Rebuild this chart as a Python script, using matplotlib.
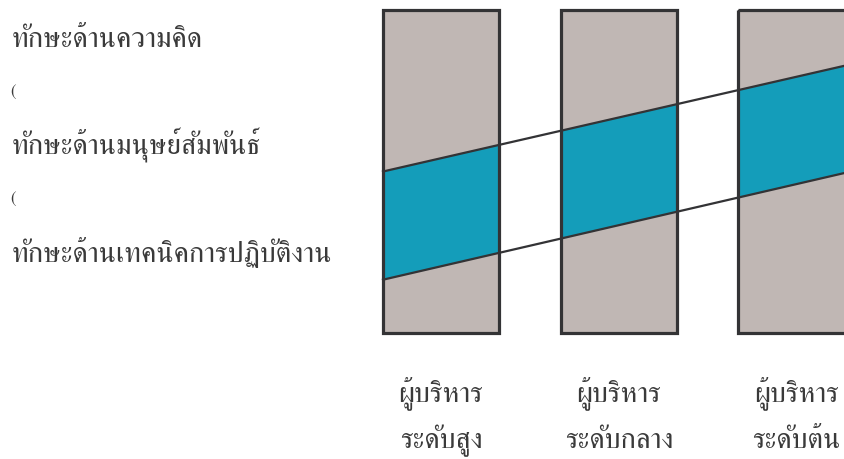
import matplotlib
matplotlib.use("Agg")
import matplotlib.pyplot as plt
from matplotlib.patches import Rectangle, Polygon

FONT = ["FreeSerif", "DejaVu Serif"]
TXT = "#3a3a3a"

# management levels (left to right) and the skill labels on the left
levels = ["ผู้บริหาร\nระดับสูง", "ผู้บริหาร\nระดับกลาง", "ผู้บริหาร\nระดับต้น"]
skills = ["ทักษะด้านความคิด", "(", "ทักษะด้านมนุษย์สัมพันธ์", "(", "ทักษะด้านเทคนิคการปฏิบัติงาน"]

# share of the column (0 = bottom, 1 = top) taken by the human-relations band,
# read at the left edge of the first column and the right edge of the picture
band_low = [0.165, 0.495]
band_high = [0.500, 0.827]

fig = plt.figure(figsize=(8.44, 4.59), dpi=100)
ax = fig.add_axes([0, 0, 1, 1])
ax.set_xlim(0, 844); ax.set_ylim(459, 0); ax.axis("off")

GREY, TEAL, EDGE = "#c0b7b4", "#149dba", "#333335"
col_x = [383, 561, 738]; col_w = 116
top, bot = 10, 333
x0, x1 = col_x[0], 844

def yat(vals, x):
    f = vals[0] + (vals[1] - vals[0]) * (x - x0) / (x1 - x0)
    return bot - f * (bot - top)

for x, lab in zip(col_x, levels):
    ax.add_patch(Rectangle((x, top), col_w, bot - top, fc=GREY, ec="none", zorder=1))
    xr = min(x + col_w, 844)
    poly = [(x, yat(band_high, x)), (xr, yat(band_high, xr)),
            (xr, yat(band_low, xr)), (x, yat(band_low, x))]
    ax.add_patch(Polygon(poly, closed=True, fc=TEAL, ec="none", zorder=2))
    ax.add_patch(Rectangle((x, top), col_w, bot - top, fc="none", ec=EDGE, lw=2.3, zorder=4))
    a, b = lab.split("\n")
    cx = x + col_w / 2
    ax.text(cx, 401, a, ha="center", va="baseline", fontsize=20.7, family=FONT, color=TXT)
    ax.text(cx, 448, b, ha="center", va="baseline", fontsize=20.7, family=FONT, color=TXT)

for vals in (band_high, band_low):
    ax.plot([x0, x1], [yat(vals, x0), yat(vals, x1)], color=EDGE, lw=1.6, zorder=3)

for y, s in zip([47, 92, 153, 199, 262], skills):
    if s == "(":
        ax.text(10, y, s, ha="left", va="center", fontsize=12, family=FONT, color=TXT)
    else:
        ax.text(12, y, s, ha="left", va="baseline", fontsize=20.7, family=FONT, color=TXT)

fig.savefig("out.png")
